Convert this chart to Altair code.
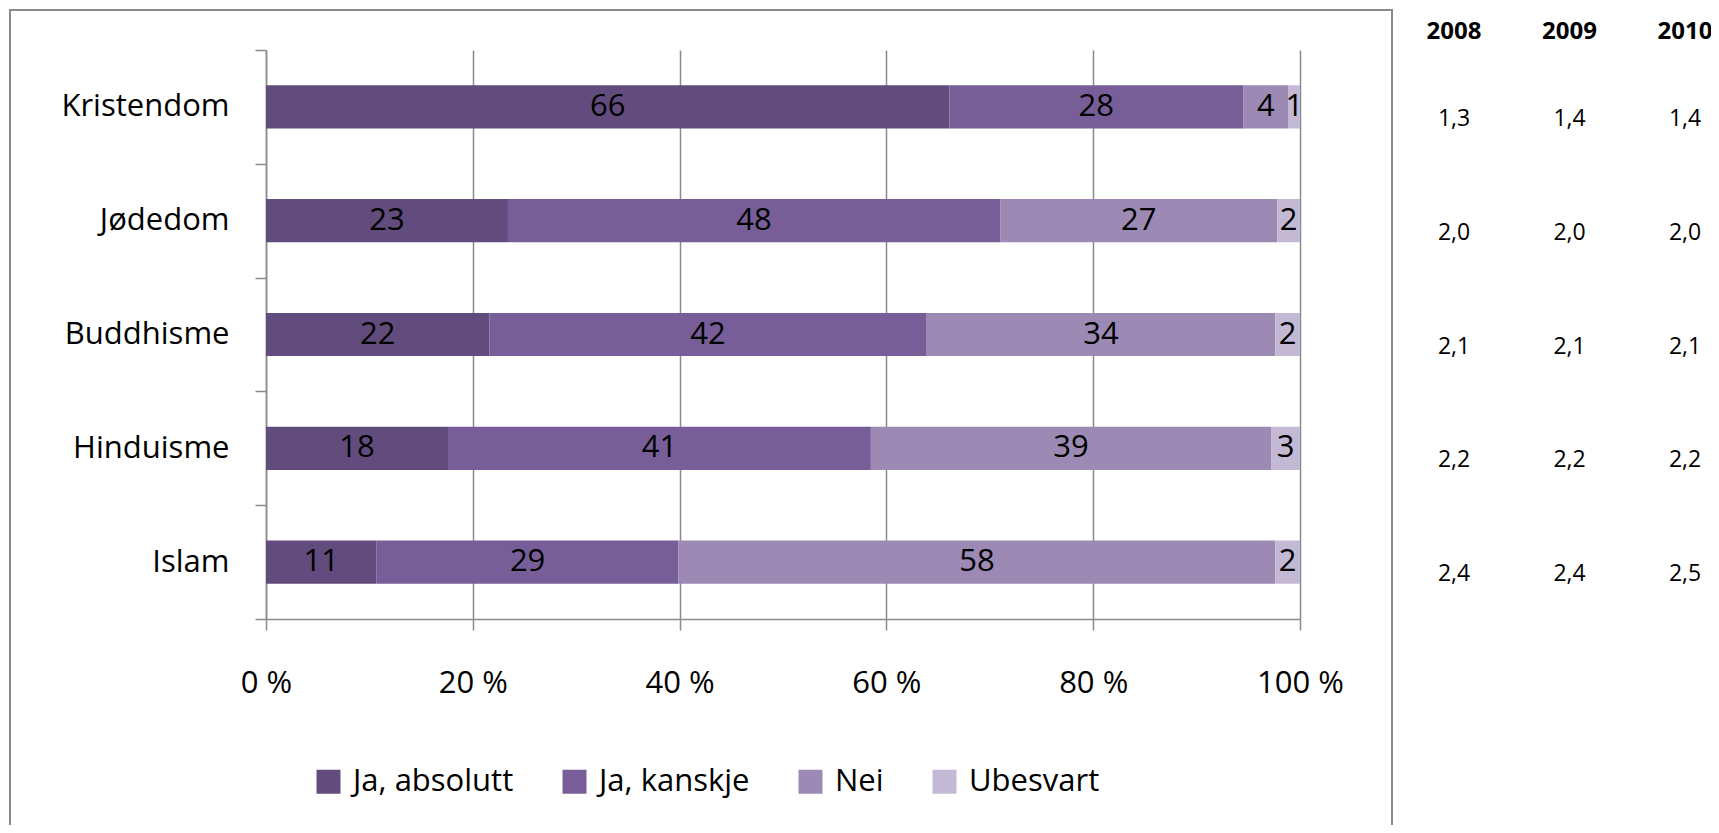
import altair as alt
import pandas as pd

religions = ["Kristendom", "Jødedom", "Buddhisme", "Hinduisme", "Islam"]
answers = ["Ja, absolutt", "Ja, kanskje", "Nei", "Ubesvart"]
ja_absolutt = [66.1, 23.4, 21.6, 17.6, 10.7]
ja_kanskje = [28.4, 47.6, 42.3, 40.9, 29.2]
nei = [4.4, 26.8, 33.7, 38.7, 57.7]
ubesvart = [1.1, 2.2, 2.4, 2.8, 2.4]
colors = ["#624c7d", "#775e98", "#9c8ab4", "#c4b9d4"]

years = ["2008", "2009", "2010"]
v2008 = [1.3, 2.0, 2.1, 2.2, 2.4]
v2009 = [1.4, 2.0, 2.1, 2.2, 2.4]
v2010 = [1.4, 2.0, 2.1, 2.2, 2.5]

FONT = "Open Sans"
FS = 31
GRAY = "#8a8a8a"

rows = []
for i, r in enumerate(religions):
    for k, (a, series) in enumerate(zip(answers, [ja_absolutt, ja_kanskje, nei, ubesvart])):
        rows.append({"religion": r, "answer": a, "order": k, "value": series[i]})
df = pd.DataFrame(rows)

trows = []
for i, r in enumerate(religions):
    for y, series in zip(years, [v2008, v2009, v2010]):
        trows.append({"religion": r, "year": y, "val": series[i]})
tdf = pd.DataFrame(trows)
hdf = pd.DataFrame({"year": years})

base = alt.Chart(df).transform_stack(
    stack="value", groupby=["religion"], as_=["x0", "x1"],
    sort=[alt.SortField("order", order="ascending")]
).transform_calculate(mid="(datum.x0 + datum.x1) / 2")

yenc = alt.Y(
    "religion:N", sort=religions,
    scale=alt.Scale(paddingInner=0, paddingOuter=0),
    axis=alt.Axis(
        title=None, tickBand="extent", tickSize=11, tickColor=GRAY, tickWidth=1.5,
        domainColor=GRAY, domainWidth=1.5, labelFont=FONT, labelFontSize=FS,
        labelColor="black", labelPadding=26, grid=False,
    ),
)

bars = base.mark_bar(height={"band": 0.38}).encode(
    x=alt.X(
        "x0:Q", scale=alt.Scale(domain=[0, 100], nice=False),
        axis=alt.Axis(
            title=None, values=[0, 20, 40, 60, 80, 100], labelExpr="datum.value + ' %'",
            grid=True, gridColor=GRAY, gridWidth=1.5, domainColor=GRAY, domainWidth=1.5,
            tickColor=GRAY, tickWidth=1.5, tickSize=11, labelFont=FONT, labelFontSize=FS,
            labelColor="black", labelPadding=38, labelFlush=False,
        ),
    ),
    x2="x1:Q",
    y=yenc,
    color=alt.Color(
        "answer:N", sort=answers,
        scale=alt.Scale(domain=answers, range=colors),
        legend=alt.Legend(
            orient="none", legendX=47, legendY=716, direction="horizontal", title=None,
            symbolType="square", symbolSize=576, symbolStrokeWidth=0, symbolOpacity=1,
            labelFont=FONT, labelFontSize=FS, labelColor="black", labelOffset=9,
            labelLimit=400, columnPadding=45,
        ),
    ),
    order=alt.Order("order:Q"),
)

labels = base.mark_text(font=FONT, fontSize=FS, color="black").encode(
    x=alt.X("mid:Q", scale=alt.Scale(domain=[0, 100], nice=False)),
    y=alt.Y("religion:N", sort=religions),
    text=alt.Text("value:Q", format=".0f"),
)

left = alt.layer(bars, labels)

xt = alt.X("year:O", scale=alt.Scale(type="point", range=[1188, 1419], padding=0), axis=None)

tvals = alt.Chart(tdf).transform_calculate(
    label="replace(format(datum.val, '.1f'), '.', ',')"
).mark_text(font=FONT, fontSize=23, color="black", dy=12).encode(
    x=xt,
    y=alt.Y("religion:N", sort=religions),
    text="label:N",
)

theads = alt.Chart(hdf).mark_text(font=FONT, fontSize=24, fontWeight="bold", color="black").encode(
    x=xt,
    y=alt.value(-18),
    text="year:N",
)

right = alt.layer(tvals, theads)

frame = alt.Chart(pd.DataFrame({"a": [0]})).mark_rect(
    fillOpacity=0, stroke=GRAY, strokeWidth=2
).encode(
    x=alt.value(-256), x2=alt.value(1126), y=alt.value(-40), y2=alt.value(820)
)

chart = alt.layer(frame, left, right).resolve_scale(x="independent").properties(
    width=1034, height=569,
    autosize=alt.AutoSizeParams(type="none"),
    padding={"left": 258, "top": 42, "right": 411, "bottom": 206},
    background="white",
).configure_view(stroke=None)

chart.save("out.html", embed_options={"renderer": "svg", "actions": False})
